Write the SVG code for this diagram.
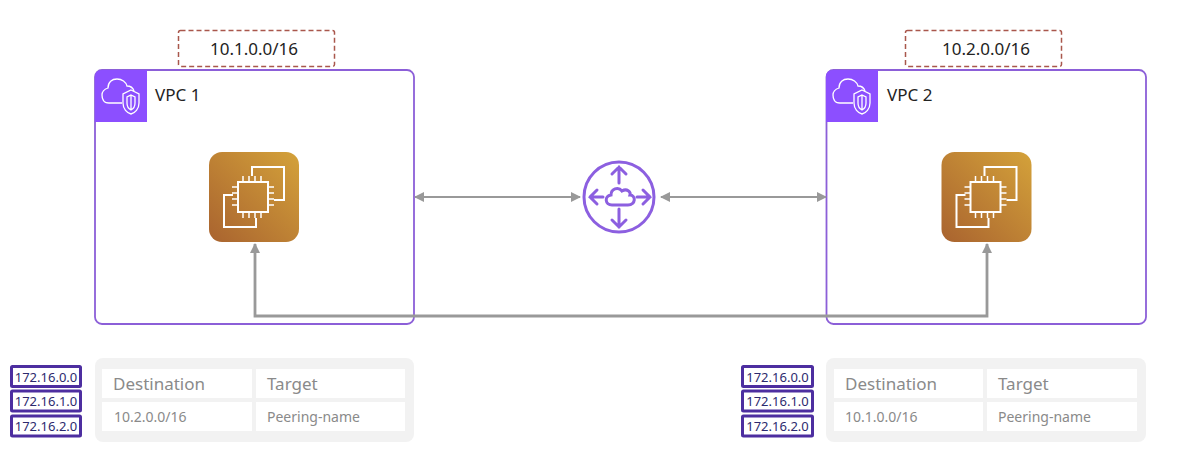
<svg xmlns="http://www.w3.org/2000/svg" width="1182" height="468" viewBox="0 0 1182 468">
<style>
text{font-family:"Noto Sans","Open Sans","Liberation Sans",sans-serif}
.vpc{fill:#fff;stroke:#8c5fd8;stroke-width:1.8}
.badge{fill:#8c4fff}
.cidr{fill:#fff;stroke:#a9574c;stroke-width:1.5;stroke-dasharray:5 3}
.cidrt{font-size:17px;fill:#232323;text-anchor:middle}
.name{font-size:17px;fill:#232323}
.ico{fill:none;stroke:#fff;stroke-width:2}
.thin{fill:none;stroke:#fff;stroke-width:1.5}
.vl{fill:none;stroke:#fff;stroke-width:1.3}
.chip{fill:#fff;stroke:#4d2ea0;stroke-width:3}
.chipt{font-size:13px;fill:#2d2a6e;text-anchor:middle}
.panel{fill:#f2f2f2}
.cell{fill:#fff}
.th{font-size:17px;fill:#8a8a8a}
.td{font-size:14px;fill:#8a8a8a}
.conn{fill:none;stroke:#999;stroke-width:2}
.conn2{fill:none;stroke:#999;stroke-width:2.8}
.rt{fill:none;stroke:#8c5fe0;stroke-width:3}
</style>
<defs>
<linearGradient id="ec2" x1="0" y1="1" x2="1" y2="0"><stop offset="0" stop-color="#a9632f"/><stop offset="1" stop-color="#d4a23a"/></linearGradient>
<marker id="a" viewBox="0 0 10 10" refX="9" refY="5" markerWidth="10" markerHeight="10" markerUnits="userSpaceOnUse" orient="auto-start-reverse"><path d="M0 0L10 5L0 10Z" fill="#999"/></marker>
<g id="ec2icon">
<rect width="90" height="90" rx="13" fill="url(#ec2)"/>
<path class="ico" d="M43 24V15H75V48H65"/>
<path class="ico" d="M24 43H15V75H47V66"/>
<rect class="ico" x="29" y="30" width="30" height="30"/>
<path class="thin" d="M34 24V30M40 24V30M46 24V30M52 24V30M34 60V66M40 60V66M46 60V66M52 60V66M23 35H29M23 41H29M23 47H29M23 53H29M59 35H65M59 41H65M59 47H65M59 53H65"/>
</g>
<g id="vpcicon">
<path class="badge" d="M0 52V7Q0 0 7 0H52V52Z"/>
<path class="vl" d="M27 33H14C8 33 7 28 7 25C7 21 10 19 13 18C13 12 17 9 22 9C27 9 31 12 32 16C35 16 38 18 39 21"/>
<path class="vl" d="M36 20L44 24V33C44 39 40 43 36 44C32 43 28 39 28 33V24Z"/>
<path class="vl" d="M36 25L40 27V33C40 37 38 39 36 40C34 39 32 37 32 33V27ZM36 25V40"/>
</g>
</defs>

<g id="vpc1">
<rect class="vpc" x="95" y="70" width="319" height="254" rx="7"/>
<use href="#vpcicon" x="95" y="70"/>
<text class="name" x="155" y="101">VPC 1</text>
</g>
<g id="vpc2">
<rect class="vpc" x="826.500" y="70" width="319.500" height="254" rx="7"/>
<use href="#vpcicon" x="826" y="70"/>
<text class="name" x="887" y="101">VPC 2</text>
</g>
<g id="cidr1"><rect class="cidr" x="178.500" y="30.500" width="156" height="36" rx="2"/><text class="cidrt" x="254" y="55">10.1.0.0/16</text></g>
<g id="cidr2"><rect class="cidr" x="905.500" y="30.500" width="156" height="36" rx="2"/><text class="cidrt" x="986" y="55">10.2.0.0/16</text></g>
<g id="ec2-1"><use href="#ec2icon" x="209" y="152"/></g>
<g id="ec2-2"><use href="#ec2icon" x="941.500" y="152"/></g>

<g id="router">
<circle class="rt" cx="619" cy="197" r="35"/>
<path class="rt" stroke-linecap="round" d="M619 183V167M612 174L619 167L626 174M619 209V227M612 220L619 227L626 220M603 197H590M597 190L590 197L597 204M637 197H650M643 190L650 197L643 204"/>
<path class="rt" d="M612 205C605 205 604 196 611 195C611 189 618 186 622 191C627 188 631 192 630 195C636 195 636 205 628 205Z"/>
</g>

<g id="connectors">
<path class="conn" d="M415 197H580" marker-start="url(#a)" marker-end="url(#a)"/>
<path class="conn" d="M661 197H826" marker-start="url(#a)" marker-end="url(#a)"/>
<path class="conn2" d="M255 244V316H987V244" marker-start="url(#a)" marker-end="url(#a)"/>
</g>

<g id="chips-left">
<rect class="chip" x="11.500" y="366.500" width="69" height="20" rx="1"/><text class="chipt" x="46" y="381.500">172.16.0.0</text>
<rect class="chip" x="11.500" y="391" width="69" height="20" rx="1"/><text class="chipt" x="46" y="406">172.16.1.0</text>
<rect class="chip" x="11.500" y="416" width="69" height="20" rx="1"/><text class="chipt" x="46" y="431">172.16.2.0</text>
</g>
<g id="chips-right">
<rect class="chip" x="742.500" y="366.500" width="70" height="20" rx="1"/><text class="chipt" x="777.500" y="381.500">172.16.0.0</text>
<rect class="chip" x="742.500" y="391" width="70" height="20" rx="1"/><text class="chipt" x="777.500" y="406">172.16.1.0</text>
<rect class="chip" x="742.500" y="416" width="70" height="20" rx="1"/><text class="chipt" x="777.500" y="431">172.16.2.0</text>
</g>

<g id="table-left">
<rect class="panel" x="95" y="358" width="319" height="84" rx="8"/>
<rect class="cell" x="102" y="369" width="150" height="29"/>
<rect class="cell" x="256" y="369" width="149" height="29"/>
<rect class="cell" x="102" y="402" width="150" height="29"/>
<rect class="cell" x="256" y="402" width="149" height="29"/>
<text class="th" x="113" y="390">Destination</text>
<text class="th" x="267" y="390">Target</text>
<text class="td" x="114" y="422">10.2.0.0/16</text>
<text class="td" x="267" y="422">Peering-name</text>
</g>
<g id="table-right">
<rect class="panel" x="826" y="358" width="320" height="84" rx="8"/>
<rect class="cell" x="834" y="369" width="149" height="29"/>
<rect class="cell" x="987" y="369" width="150" height="29"/>
<rect class="cell" x="834" y="402" width="149" height="29"/>
<rect class="cell" x="987" y="402" width="150" height="29"/>
<text class="th" x="845" y="390">Destination</text>
<text class="th" x="998" y="390">Target</text>
<text class="td" x="845" y="422">10.1.0.0/16</text>
<text class="td" x="998" y="422">Peering-name</text>
</g>
</svg>
